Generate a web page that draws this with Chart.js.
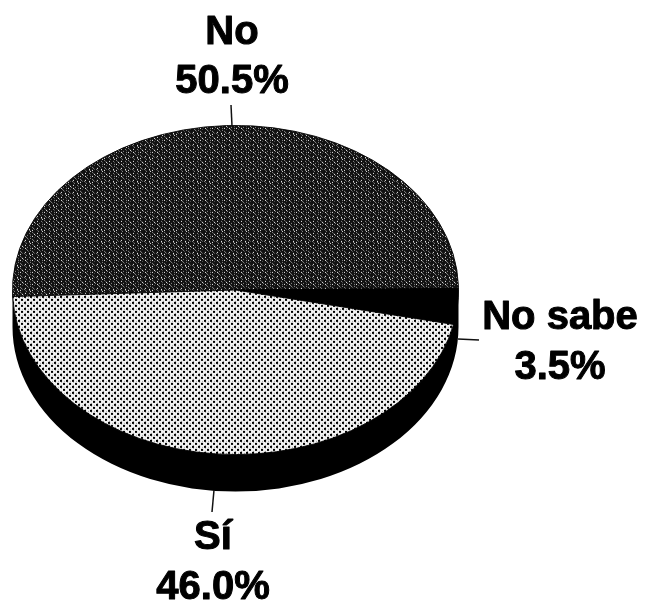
<!DOCTYPE html>
<html>
<head>
<meta charset="utf-8">
<title>No / Sí / No sabe</title>
<script src="https://cdn.jsdelivr.net/npm/chart.js@4"></script>
<style>
  html, body { margin: 0; padding: 0; background: #ffffff; }
  #wrap { width: 645px; height: 602px; }
</style>
</head>
<body>
<div id="wrap"><canvas id="pie" width="645" height="602"></canvas></div>
<script>
// Data
const categories = ['No', 'No sabe', 'Sí'];
const shares = [50.5, 3.5, 46.0];

// Look of the flattened pie
const flatten = 0.738;
const faceCenterY = 290;
const depth = 37;

// Small bitmap tiles for the two screened slices
function makeTile(rows, colors) {
    const c = document.createElement('canvas');
    c.width = rows[0].length;
    c.height = rows.length;
    const g = c.getContext('2d');
    rows.forEach((row, y) => {
        [...row].forEach((ch, x) => {
            g.fillStyle = colors[ch];
            g.fillRect(x, y, 1, 1);
        });
    });
    const pattern = g.createPattern(c, 'repeat');
    // the canvas gets squashed while the pie is drawn, keep the dots square
    pattern.setTransform(new DOMMatrix().scale(1, 1 / flatten));
    return pattern;
}

const darkTile = makeTile([
    '#.####a#.###',
    '##a#######b#',
    '###a##a#####',
    '####b###a###',
    '#.#######a##',
    'a####.####b#',
    '#b###a##.###',
    '##a###.#####',
    '########a###',
    '#.###a###b##',
    '######b###.#',
    '###a#######a'
], { '#': '#111111', 'a': '#8a8a8a', 'b': '#555555', '.': '#f0f0f0' });

const lightTile = makeTile([
    '##....',
    '##..o.',
    '.o....',
    '...##.',
    '...##.',
    '.o....'
], { '#': '#000000', 'o': '#aaaaaa', '.': '#f4f4f4' });

// Squash the pie into an ellipse and put the black rim under it
const tiltPlugin = {
    id: 'tilt',
    beforeDatasetsDraw(chart) {
        const ctx = chart.ctx;
        const arc = chart.getDatasetMeta(0).data[0];
        const rx = arc.outerRadius;
        const ry = rx * flatten;
        ctx.save();
        ctx.fillStyle = '#000000';
        ctx.beginPath();
        ctx.ellipse(arc.x, faceCenterY + depth, rx, ry, 0, 0, Math.PI * 2);
        ctx.rect(arc.x - rx, faceCenterY, rx * 2, depth);
        ctx.fill('nonzero');
        ctx.restore();

        ctx.save();
        ctx.translate(arc.x, faceCenterY);
        ctx.scale(1, flatten);
        ctx.translate(-arc.x, -arc.y);
    },
    afterDatasetsDraw(chart) {
        chart.ctx.restore();
    }
};

// Leader lines and the two-line labels
const labelPlugin = {
    id: 'pieLabels',
    afterDraw(chart) {
        const ctx = chart.ctx;
        const leaders = [
            [231, 105, 232, 126],
            [458, 339, 479, 340],
            [214, 490, 212, 512]
        ];
        const spots = [
            [232, 44, 93],
            [560, 329, 379],
            [213, 549, 599]
        ];
        ctx.save();
        ctx.strokeStyle = '#111111';
        ctx.lineWidth = 1.5;
        leaders.forEach(l => {
            ctx.beginPath();
            ctx.moveTo(l[0], l[1]);
            ctx.lineTo(l[2], l[3]);
            ctx.stroke();
        });
        ctx.fillStyle = '#000000';
        ctx.strokeStyle = '#000000';
        ctx.lineWidth = 1;
        ctx.lineJoin = 'round';
        ctx.font = 'bold 40px "Liberation Sans", Arial, sans-serif';
        ctx.textAlign = 'center';
        ctx.textBaseline = 'alphabetic';
        categories.forEach((name, i) => {
            const pct = shares[i].toFixed(1) + '%';
            ctx.fillText(name, spots[i][0], spots[i][1]);
            ctx.strokeText(name, spots[i][0], spots[i][1]);
            ctx.fillText(pct, spots[i][0], spots[i][2]);
            ctx.strokeText(pct, spots[i][0], spots[i][2]);
        });
        ctx.restore();
    }
};

new Chart(document.getElementById('pie'), {
    type: 'pie',
    data: {
        labels: categories,
        datasets: [{
            data: shares,
            backgroundColor: [darkTile, '#000000', lightTile],
            borderColor: '#000000',
            borderWidth: 1
        }]
    },
    options: {
        responsive: false,
        animation: false,
        rotation: -92.3,
        layout: { padding: { left: 12, right: 186, top: 0, bottom: 0 } },
        plugins: {
            legend: { display: false },
            tooltip: { enabled: false }
        }
    },
    plugins: [tiltPlugin, labelPlugin]
});
</script>
</body>
</html>
